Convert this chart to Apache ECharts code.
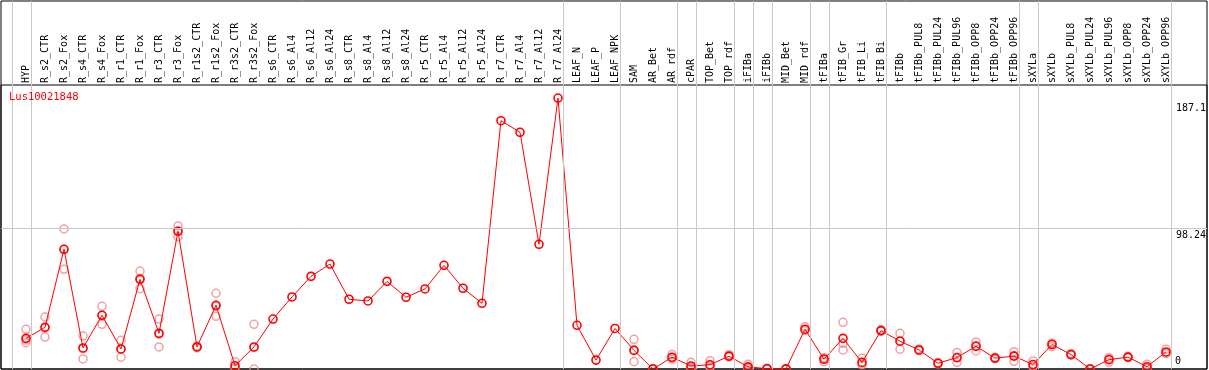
<!DOCTYPE html>
<html>
<head>
<meta charset="utf-8">
<script src="https://cdn.jsdelivr.net/npm/echarts@6/dist/echarts.min.js"></script>
<style>
  html, body { margin: 0; padding: 0; background: #fff; }
  #chart { width: 1209px; height: 370px; }
</style>
</head>
<body>
<div id="chart"></div>
<script>
// ---------------- data ----------------
const title = 'Lus10021848';

const categories = [
  'HYP', 'R_s2_CTR', 'R_s2_Fox', 'R_s4_CTR', 'R_s4_Fox', 'R_r1_CTR', 'R_r1_Fox',
  'R_r3_CTR', 'R_r3_Fox', 'R_r1s2_CTR', 'R_r1s2_Fox', 'R_r3s2_CTR', 'R_r3s2_Fox',
  'R_s6_CTR', 'R_s6_Al4', 'R_s6_Al12', 'R_s6_Al24', 'R_s8_CTR', 'R_s8_Al4',
  'R_s8_Al12', 'R_s8_Al24', 'R_r5_CTR', 'R_r5_Al4', 'R_r5_Al12', 'R_r5_Al24',
  'R_r7_CTR', 'R_r7_Al4', 'R_r7_Al12', 'R_r7_Al24', 'LEAF_N', 'LEAF_P', 'LEAF_NPK',
  'SAM', 'AR_Bet', 'AR_rdf', 'cPAR', 'TOP_Bet', 'TOP_rdf', 'iFIBa', 'iFIBb',
  'MID_Bet', 'MID_rdf', 'tFIBa', 'tFIB_Gr', 'tFIB_Li', 'tFIB_Bi', 'tFIBb',
  'tFIBb_PUL8', 'tFIBb_PUL24', 'tFIBb_PUL96', 'tFIBb_OPP8', 'tFIBb_OPP24', 'tFIBb_OPP96',
  'sXYLa', 'sXYLb', 'sXYLb_PUL8', 'sXYLb_PUL24', 'sXYLb_PUL96', 'sXYLb_OPP8',
  'sXYLb_OPP24', 'sXYLb_OPP96'
];

const means = [
  21.4, 29.1, 83.6, 14.7, 37.5, 14.0, 62.6, 24.9, 96.2, 15.4, 44.5, 2.3, 15.4,
  34.9, 50.3, 64.7, 73.3, 48.7, 47.5, 61.2, 50.1, 55.9, 72.4, 56.4, 45.9,
  173.4, 165.3, 87.1, 189.2, 30.5, 6.2, 28.3,
  13.0, 0.0, 8.2, 2.1, 3.0, 9.0, 1.5, 0.2, 0.1, 27.8, 6.8, 21.4, 4.6, 26.8,
  19.4, 13.3, 4.0, 8.0, 15.9, 7.6, 9.0,
  3.1, 17.1, 10.1, 0.0, 6.5, 8.3, 1.6, 11.9
];

const replicates = [
  [27.7, 20.2, 18.4], [36.3, 22.3, 28.8], [97.8, 69.6, 83.4], [23.0, 7.0, 14.1],
  [43.8, 31.2, 37.5], [20.0, 8.2, 13.8], [68.4, 56.1, 63.3], [34.9, 15.4, 24.4],
  [99.9, 92.4, 96.3], [16.0, 14.8, 15.4], [52.9, 36.8, 43.8], [5.1, 1.0, 0.8],
  [31.2, 0.0, 15.0],
  [], [], [], [], [], [], [], [], [], [], [], [], [], [], [], [], [], [], [],
  [20.7, 5.1, 13.2], [0.4, 0.0, 0.0], [10.2, 7.5, 6.9], [4.7, 1.0, 0.6],
  [5.8, 2.0, 1.2], [10.0, 8.6, 8.4], [3.3, 0.8, 0.4], [0.5, 0.0, 0.1],
  [0.2, 0.0, 0.1], [29.5, 27.0, 26.9], [5.1, 7.5, 7.8], [32.6, 13.3, 17.9],
  [7.5, 3.2, 3.1], [27.5, 26.5, 26.4], [24.9, 13.8, 19.5], [14.0, 12.8, 13.1],
  [4.6, 3.6, 3.8], [11.6, 4.7, 7.7], [18.9, 12.6, 16.2], [8.2, 7.2, 7.4],
  [12.1, 5.4, 9.5], [5.6, 2.0, 1.7], [15.6, 18.0, 17.7], [10.8, 9.6, 9.9],
  [0.3, 0.0, 0.0], [4.7, 7.9, 6.9], [8.9, 7.9, 8.1], [3.3, 0.8, 0.7],
  [13.8, 10.9, 11.0]
];

// group separators drawn right after these category indices
const groupEnds = [-1, 0, 28, 31, 34, 35, 37, 38, 39, 41, 42, 45, 52, 53, 60];

// y tick labels
const yTicks = [0, 98.24, 187.1];
const yGridLines = [98.24];

// ---------------- layout ----------------
const FONT = 'DejaVu Sans Mono';
const FRAME_L = 1, FRAME_R = 1207, FRAME_T = 1, FRAME_B = 369, HEADER_B = 85;
const X0 = 26, STEP = 19;          // pixel of first category, spacing
const SEP_OFF = 0.25;               // separator offset in category units
const Y_SCALE = 1.432;              // px per unit
const W = 1209, H = 370;

const xMin = (FRAME_L - X0) / STEP;
const xMax = (FRAME_R - X0) / STEP;
const yMaxPlot = (FRAME_B - HEADER_B) / Y_SCALE;

const meanData = means.map((v, i) => [i, v]);
const repData = [];
replicates.forEach((arr, i) => arr.forEach(v => repData.push([i, v])));

const chart = echarts.init(document.getElementById('chart'), null, { renderer: 'canvas' });

const tickLabel = v => ({
  yAxis: v,
  lineStyle: yGridLines.includes(v)
    ? { color: '#c8c8c8', width: 1, type: 'solid' }
    : { color: 'rgba(0,0,0,0)', width: 1 },
  label: {
    show: true,
    position: v === 0 ? 'insideEndTop' : 'insideEndBottom',
    distance: v === 0 ? 3 : 2,
    formatter: '{a|' + v + '}',
    rich: { a: { width: 29, align: 'left', fontFamily: FONT, fontSize: 10, color: '#000' } }
  }
});

chart.setOption({
  animation: false,
  backgroundColor: '#fff',
  title: {
    text: title, left: 4, top: 87,
    textStyle: { color: '#ff0000', fontSize: 10.5, fontFamily: FONT, fontWeight: 'normal' }
  },
  grid: [
    { left: FRAME_L, right: W - FRAME_R, top: FRAME_T, bottom: H - FRAME_B,
      show: true, borderColor: '#000', borderWidth: 1, backgroundColor: 'transparent' },
    { left: FRAME_L, right: W - FRAME_R, top: HEADER_B, bottom: H - FRAME_B,
      show: true, borderColor: '#000', borderWidth: 1, backgroundColor: 'transparent' },
    { left: X0 - STEP / 2, right: W - (X0 + STEP * (categories.length - 0.5)),
      top: HEADER_B, bottom: H - FRAME_B, show: false }
  ],
  xAxis: [
    { type: 'value', gridIndex: 0, min: xMin, max: xMax, show: false },
    { type: 'value', gridIndex: 1, min: xMin, max: xMax, show: false },
    { type: 'category', gridIndex: 2, data: categories, position: 'top',
      boundaryGap: true,
      axisLine: { show: false }, axisTick: { show: false }, splitLine: { show: false },
      axisLabel: { rotate: 90, interval: 0, margin: 2, fontSize: 10, fontFamily: FONT, color: '#000' } }
  ],
  yAxis: [
    { type: 'value', gridIndex: 0, min: 0, max: 1, show: false },
    { type: 'value', gridIndex: 1, min: 0, max: yMaxPlot, show: false },
    { type: 'value', gridIndex: 2, min: 0, max: 1, show: false }
  ],
  series: [
    {
      type: 'line', xAxisIndex: 0, yAxisIndex: 0, data: [], silent: true, z: 1,
      markLine: {
        silent: true, symbol: 'none', animation: false,
        lineStyle: { color: '#c8c8c8', width: 1, type: 'solid' },
        label: { show: false },
        data: groupEnds.map(i => ({ xAxis: i + SEP_OFF }))
      }
    },
    {
      type: 'line', xAxisIndex: 1, yAxisIndex: 1, data: [], silent: true, z: 1,
      markLine: {
        silent: true, symbol: 'none', animation: false,
        data: yTicks.map(tickLabel)
      }
    },
    {
      type: 'scatter', xAxisIndex: 1, yAxisIndex: 1, data: repData, z: 2,
      symbol: 'circle', symbolSize: 8,
      itemStyle: { color: 'rgba(0,0,0,0)', borderColor: '#ee8a8a', borderWidth: 1.5 }
    },
    {
      type: 'line', xAxisIndex: 1, yAxisIndex: 1, data: meanData, z: 3,
      symbol: 'circle', symbolSize: 8, showAllSymbol: true,
      lineStyle: { color: '#ff0000', width: 1 },
      itemStyle: { color: 'rgba(0,0,0,0)', borderColor: '#ff0000', borderWidth: 1.6 }
    }
  ]
});
</script>
</body>
</html>
